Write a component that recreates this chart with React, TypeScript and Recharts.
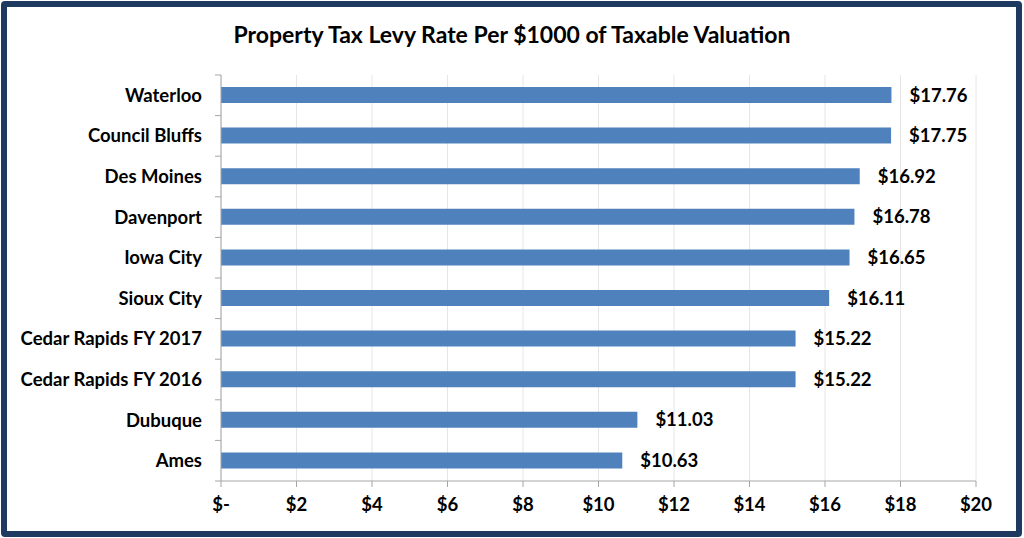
import { BarChart, Bar, XAxis, YAxis, CartesianGrid, LabelList } from 'recharts'

const cities = [
  'Waterloo',
  'Council Bluffs',
  'Des Moines',
  'Davenport',
  'Iowa City',
  'Sioux City',
  'Cedar Rapids FY 2017',
  'Cedar Rapids FY 2016',
  'Dubuque',
  'Ames',
]
const rates = [17.76, 17.75, 16.92, 16.78, 16.65, 16.11, 15.22, 15.22, 11.03, 10.63]
const xTicks = [0, 2, 4, 6, 8, 10, 12, 14, 16, 18, 20]

const data = cities.map((name, i) => ({ name, rate: rates[i] }))

const FONT = 'Lato, "Open Sans", sans-serif'
const AXIS = '#a6a6a6'
const LABEL = 18.5

// category tick: label at band centre, tick marks at band edges like Excel
function CityTick(props: any) {
  const { x, y, payload, index } = props
  const ax = x + 8
  const half = 406 / cities.length / 2
  return (
    <g>
      <line x1={ax - 6} x2={ax} y1={y - half} y2={y - half} stroke={AXIS} />
      {index === cities.length - 1 && (
        <line x1={ax - 6} x2={ax} y1={y + half} y2={y + half} stroke={AXIS} />
      )}
      <text x={ax - 19} y={y} dy="0.35em" textAnchor="end" fontFamily={FONT} fontWeight={700} fontSize={LABEL} fill="#000">
        {payload.value}
      </text>
    </g>
  )
}

export default function App() {
  return (
    <div style={{ position: 'absolute', left: 0, top: 0, width: 1024, height: 538, background: '#fff' }}>
      <div
        style={{
          position: 'absolute', left: 1, top: 1, width: 1021, height: 536, boxSizing: 'border-box',
          border: '6px solid #1f3a60', borderRadius: 4,
        }}
      />
      <div
        style={{
          position: 'absolute', left: 0, top: 20, width: 1024, textAlign: 'center',
          fontFamily: FONT, fontWeight: 700, fontSize: 23, color: '#000',
        }}
      >
        Property Tax Levy Rate Per $1000 of Taxable Valuation
      </div>
      <div style={{ position: 'absolute', left: 0, top: 0 }}>
        <BarChart width={1024} height={538} data={data} layout="vertical" margin={{ top: 75, right: 48, left: 0, bottom: 0 }}>
          <CartesianGrid horizontal={false} stroke="#e6e6e6" />
          <XAxis
            type="number"
            domain={[0, 20]}
            ticks={xTicks}
            interval={0}
            height={57}
            tickFormatter={(v: number) => (v === 0 ? '$-' : `$${v}`)}
            stroke={AXIS}
            tickSize={6}
            tickMargin={11}
            tick={{ fill: '#000', fontFamily: FONT, fontWeight: 700, fontSize: LABEL }}
          />
          <YAxis
            type="category"
            dataKey="name"
            width={221}
            stroke={AXIS}
            tickLine={false}
            interval={0}
            tick={<CityTick />}
          />
          <Bar dataKey="rate" fill="#4f81bd" barSize={16} isAnimationActive={false}>
            <LabelList
              dataKey="rate"
              position="right"
              offset={18}
              formatter={(v: any) => `$${Number(v).toFixed(2)}`}
              style={{ fill: '#000', fontFamily: FONT, fontWeight: 700, fontSize: LABEL }}
            />
          </Bar>
        </BarChart>
      </div>
    </div>
  )
}
